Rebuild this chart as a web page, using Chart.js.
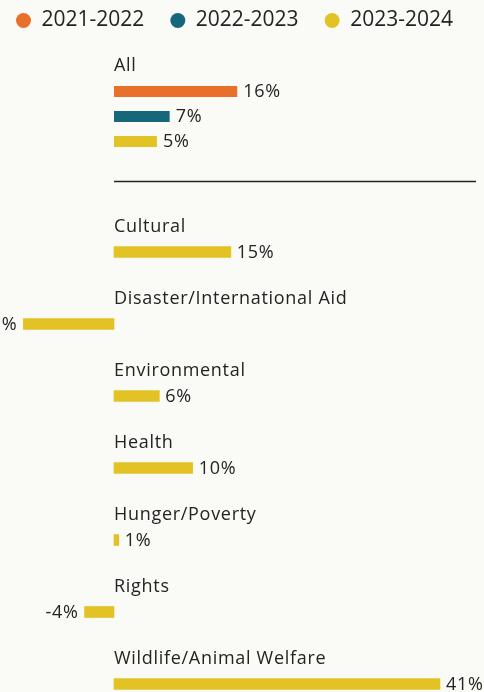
<!DOCTYPE html>
<html>
<head>
<meta charset="utf-8">
<script src="https://cdn.jsdelivr.net/npm/chart.js@4"></script>
<style>
  html, body { margin: 0; padding: 0; background: #fafaf6; overflow: hidden; }
  #wrap { position: relative; width: 484px; height: 692px; overflow: hidden; }
  .box { position: absolute; }
  #boxAll { left: -10px; top: -16px; width: 494px; height: 208px; }
  #boxCat { left: 0; top: 190px; width: 484px; height: 502px; }
</style>
</head>
<body>
<div id="wrap">
  <div class="box" id="boxAll"><canvas id="cAll"></canvas></div>
  <div class="box" id="boxCat"><canvas id="cCat"></canvas></div>
</div>
<script>
// ---------- data ----------
const seriesNames = ['2021-2022', '2022-2023', '2023-2024'];
const seriesColors = ['#e8702b', '#17677b', '#e3c226'];
const allLabel = ['All'];
const allValues = [15.5, 7.0, 5.4];            // "All", one value per series
const categories = ['Cultural', 'Disaster/International Aid', 'Environmental', 'Health',
                    'Hunger/Poverty', 'Rights', 'Wildlife/Animal Welfare'];
const catValues2324 = [14.7, -11.4, 5.7, 9.9, 0.6, -3.7, 41];   // 2023-2024 only

// ---------- layout / style constants ----------
const TEXT = '#232323';
const FONT = '"Open Sans", Lato, sans-serif';
const LABEL_SIZE = 18;
const LETTER_SPACING = '0.7px';
const ZERO_PX = 114;          // page x of the 0% line
const PX_PER_UNIT = 7.95;     // pixels per percentage point
const LABEL_GAP = 14.5;       // bar top to category-label baseline

function xRange(canvasLeft, canvasWidth) {
  return {
    min: (canvasLeft - ZERO_PX) / PX_PER_UNIT,
    max: (canvasLeft + canvasWidth - ZERO_PX) / PX_PER_UNIT
  };
}

function setTextStyle(ctx) {
  ctx.fillStyle = TEXT;
  ctx.font = LABEL_SIZE + 'px ' + FONT;
  if ('letterSpacing' in ctx) ctx.letterSpacing = LETTER_SPACING;
}

function drawValueLabels(chart) {
  const ctx = chart.ctx;
  chart.data.datasets.forEach((ds, di) => {
    chart.getDatasetMeta(di).data.forEach((bar, i) => {
      const v = ds.data[i];
      if (v === null || v === undefined) return;
      const txt = Math.round(v) + '%';
      ctx.textBaseline = 'middle';
      if (v >= 0) { ctx.textAlign = 'left'; ctx.fillText(txt, bar.x + 6, bar.y + 0.5); }
      else { ctx.textAlign = 'right'; ctx.fillText(txt, bar.x - 6, bar.y + 0.5); }
    });
  });
}

const allPlugin = {
  id: 'allLabels',
  afterDatasetsDraw(chart) {
    const ctx = chart.ctx;
    const x0 = chart.scales.x.getPixelForValue(0);
    ctx.save();
    setTextStyle(ctx);
    drawValueLabels(chart);
    const first = chart.getDatasetMeta(0).data[0];
    ctx.textAlign = 'left';
    ctx.textBaseline = 'alphabetic';
    ctx.fillText(allLabel[0], x0, first.y - first.height / 2 - LABEL_GAP);
    // separator under the "All" group
    const last = chart.getDatasetMeta(2).data[0];
    const ySep = last.y + 40;
    ctx.strokeStyle = TEXT;
    ctx.lineWidth = 1.5;
    ctx.beginPath();
    ctx.moveTo(x0, ySep);
    ctx.lineTo(chart.width - 8, ySep);
    ctx.stroke();
    ctx.restore();
  }
};

const catPlugin = {
  id: 'catLabels',
  afterDatasetsDraw(chart) {
    const ctx = chart.ctx;
    const x0 = chart.scales.x.getPixelForValue(0);
    ctx.save();
    setTextStyle(ctx);
    drawValueLabels(chart);
    ctx.textAlign = 'left';
    ctx.textBaseline = 'alphabetic';
    chart.getDatasetMeta(0).data.forEach((bar, i) => {
      ctx.fillText(categories[i], x0, bar.y - bar.height / 2 - LABEL_GAP);
    });
    ctx.restore();
  }
};

Chart.defaults.font.family = FONT;
Chart.defaults.animation = false;

// ---- chart 1: legend + "All" ----
const rA = xRange(-10, 494);
new Chart(document.getElementById('cAll'), {
  type: 'bar',
  data: {
    labels: allLabel,
    datasets: seriesNames.map((name, s) => ({
      label: name,
      data: [allValues[s]],
      backgroundColor: seriesColors[s],
      borderWidth: 0,
      categoryPercentage: 0.497,
      barPercentage: 0.44
    }))
  },
  options: {
    indexAxis: 'y',
    responsive: true,
    maintainAspectRatio: false,
    layout: { padding: 0 },
    plugins: {
      tooltip: { enabled: false },
      legend: {
        position: 'top',
        align: 'start',
        labels: {
          usePointStyle: true,
          pointStyle: 'circle',
          pointStyleWidth: 15,
          boxHeight: 10.6,
          padding: 26,
          color: TEXT,
          font: { size: 21, family: FONT }
        }
      }
    },
    scales: {
      x: { type: 'linear', min: rA.min, max: rA.max, display: false },
      y: { type: 'category', offset: true, display: false }
    }
  },
  plugins: [allPlugin]
});

// ---- chart 2: categories (2023-2024) ----
const rC = xRange(0, 484);
new Chart(document.getElementById('cCat'), {
  type: 'bar',
  data: {
    labels: categories,
    datasets: [{
      label: seriesNames[2],
      data: catValues2324,
      backgroundColor: seriesColors[2],
      borderWidth: 0,
      barThickness: 11,
      clip: false
    }]
  },
  options: {
    indexAxis: 'y',
    responsive: true,
    maintainAspectRatio: false,
    layout: { padding: { top: 62, bottom: 8, left: 0, right: 0 } },
    plugins: { tooltip: { enabled: false }, legend: { display: false } },
    scales: {
      x: { type: 'linear', min: rC.min, max: rC.max, display: false },
      y: { type: 'category', offset: false, display: false }
    }
  },
  plugins: [catPlugin]
});
</script>
</body>
</html>
